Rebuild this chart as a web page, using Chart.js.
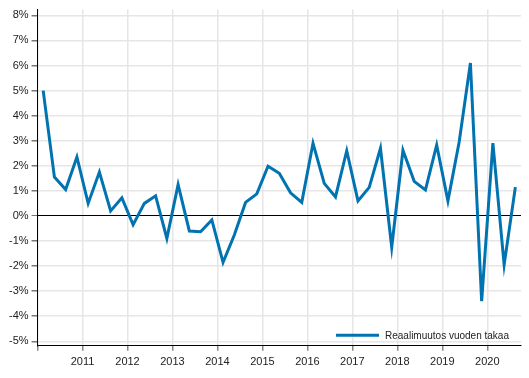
<!DOCTYPE html>
<html>
<head>
<meta charset="utf-8">
<script src="https://cdn.jsdelivr.net/npm/chart.js@4"></script>
<style>
  html, body { margin: 0; padding: 0; background: #fff; }
  #wrap { width: 529px; height: 378px; }
</style>
</head>
<body>
<div id="wrap"><canvas id="chart" width="529" height="378"></canvas></div>
<script>
// Quarterly data, 2010Q1 .. 2020Q3
const quarters = [
  '2010Q1','2010Q2','2010Q3','2010Q4',
  '2011Q1','2011Q2','2011Q3','2011Q4',
  '2012Q1','2012Q2','2012Q3','2012Q4',
  '2013Q1','2013Q2','2013Q3','2013Q4',
  '2014Q1','2014Q2','2014Q3','2014Q4',
  '2015Q1','2015Q2','2015Q3','2015Q4',
  '2016Q1','2016Q2','2016Q3','2016Q4',
  '2017Q1','2017Q2','2017Q3','2017Q4',
  '2018Q1','2018Q2','2018Q3','2018Q4',
  '2019Q1','2019Q2','2019Q3','2019Q4',
  '2020Q1','2020Q2','2020Q3'
];
const realChange = [
  5.0, 1.55, 1.05, 2.35,
  0.5, 1.75, 0.2, 0.72,
  -0.35, 0.5, 0.8, -0.9,
  1.25, -0.6, -0.63, -0.16,
  -1.85, -0.76, 0.54, 0.88,
  1.98, 1.7, 0.92, 0.54,
  2.9, 1.3, 0.76, 2.6,
  0.6, 1.14, 2.7, -1.25,
  2.62, 1.38, 1.04, 2.83,
  0.6, 2.95, 6.1, -3.4,
  2.9, -1.95, 1.15
];
const yearTicks = [2011, 2012, 2013, 2014, 2015, 2016, 2017, 2018, 2019, 2020];
const seriesLabel = 'Reaalimuutos vuoden takaa';

const lineColor = '#0073b0';
const gridColor = '#e6e6e6';
const font = { family: 'Liberation Sans, Arial, sans-serif', size: 11 };

// place each quarter at its mid point on a continuous year axis
const points = quarters.map((q, i) => {
  const year = parseInt(q.slice(0, 4), 10);
  const qn = parseInt(q.slice(5), 10);
  return { x: year + (qn - 0.5) / 4, y: realChange[i] };
});

// legend drawn inside the plot, bottom right
const innerLegend = {
  id: 'innerLegend',
  afterDraw(chart) {
    const { ctx, chartArea } = chart;
    const ds = chart.data.datasets[0];
    const y = chartArea.bottom - 10.5;
    const x0 = chartArea.right - 185;
    ctx.save();
    ctx.strokeStyle = ds.borderColor;
    ctx.lineWidth = 3;
    ctx.beginPath();
    ctx.moveTo(x0, y);
    ctx.lineTo(x0 + 43, y);
    ctx.stroke();
    ctx.fillStyle = '#222';
    ctx.font = '10px ' + font.family;
    ctx.textBaseline = 'middle';
    ctx.fillText(ds.label, x0 + 49, y + 0.5);
    ctx.restore();
  }
};

new Chart(document.getElementById('chart'), {
  type: 'line',
  data: {
    datasets: [{
      label: seriesLabel,
      data: points,
      borderColor: lineColor,
      borderWidth: 3,
      pointRadius: 0,
      tension: 0,
      fill: false
    }]
  },
  options: {
    responsive: false,
    animation: false,
    layout: { padding: { left: 6, right: 8, top: 4, bottom: 5 } },
    plugins: {
      legend: { display: false },
      tooltip: { enabled: false }
    },
    scales: {
      x: {
        type: 'linear',
        min: 2010,
        max: 2020.75,
        afterBuildTicks: (scale) => {
          scale.ticks = [2010].concat(yearTicks).map(v => ({ value: v }));
        },
        ticks: {
          color: '#222',
          font: font,
          padding: 4.5,
          maxRotation: 0,
          autoSkip: false,
          callback: (v) => yearTicks.includes(v) ? String(v) : ''
        },
        grid: { color: gridColor, lineWidth: 1.5, tickLength: 5, tickColor: '#888' },
        border: { color: '#000', width: 1 }
      },
      y: {
        min: -5.18,
        max: 8.23,
        ticks: {
          stepSize: 1,
          includeBounds: false,
          color: '#222',
          font: font,
          padding: 3,
          callback: (v) => v + '%'
        },
        grid: {
          color: (c) => c.tick && c.tick.value === 0 ? '#000' : gridColor,
          lineWidth: (c) => c.tick && c.tick.value === 0 ? 1 : 1.5,
          tickLength: 6,
          tickColor: '#777'
        },
        border: { color: '#000', width: 1 }
      }
    }
  },
  plugins: [innerLegend]
});
</script>
</body>
</html>
